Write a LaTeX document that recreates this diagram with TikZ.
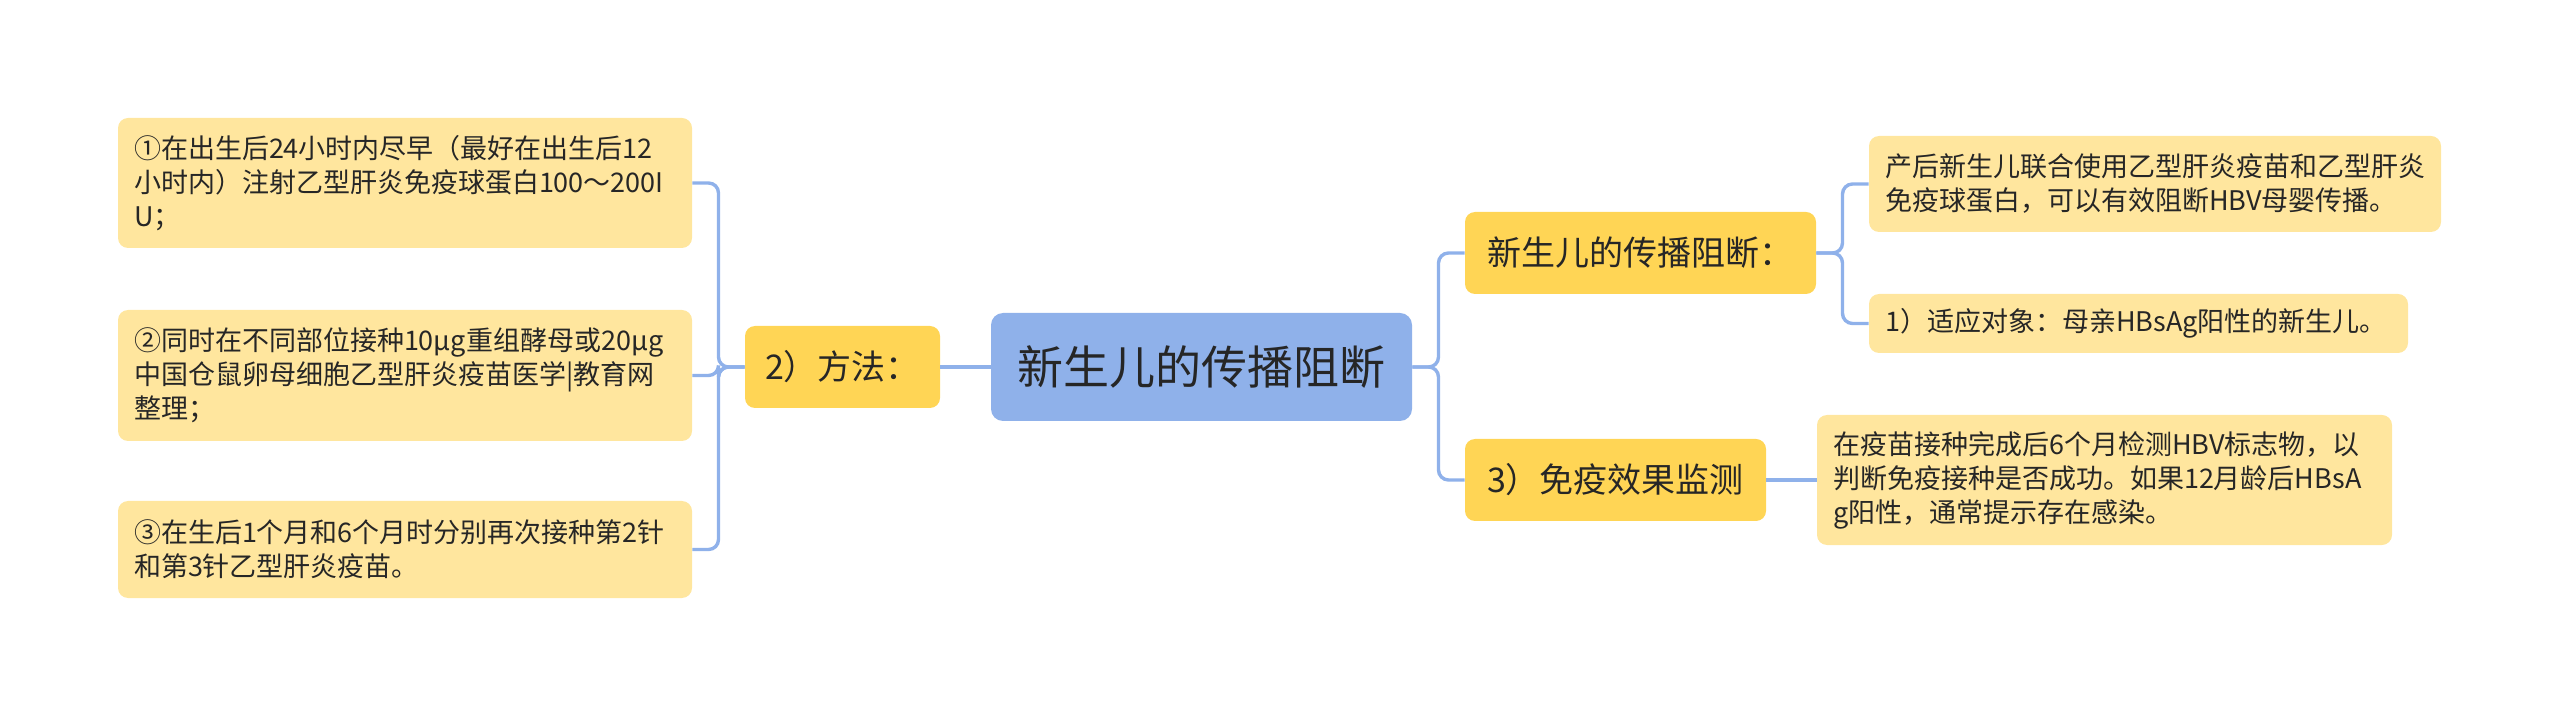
\documentclass[tikz,border=0pt]{standalone}
\usepackage{fontspec}
\setmainfont{Noto Sans CJK SC}
\usetikzlibrary{calc,positioning}
\definecolor{sky}{HTML}{8FB1EA}
\definecolor{gold}{HTML}{FFD555}
\definecolor{cream}{HTML}{FFE69E}
\definecolor{ink}{HTML}{262626}
\tikzset{
  topic/.style={fill=sky,rounded corners=6pt,text=ink,font=\fontsize{23}{28}\selectfont,minimum width=210.5pt,minimum height=54pt,inner sep=0pt},
  branch/.style={fill=gold,rounded corners=5pt,text=ink,font=\fontsize{17}{21}\selectfont,minimum height=41pt,inner sep=0pt},
  leaf/.style={fill=cream,rounded corners=5pt,text=ink,font=\fontsize{13.5}{17}\selectfont,align=left,inner xsep=8pt,inner ysep=0pt,text width=#1},
  link/.style={draw=sky,line width=1.7pt,rounded corners=5pt},
}
\begin{document}
\begin{tikzpicture}[x=0.5pt,y=-0.5pt]
    \useasboundingbox (0,0) rectangle (2560,716);
    \node[topic] (root) at (1201.5,367) {新生儿的传播阻断};
    % left side
    \node[branch,minimum width=97.5pt] (how) at (842.5,367) {2）方法：};
    \node[leaf=271pt,minimum height=65pt] (how1) at (405,183) {①在出生后24小时内尽早（最好在出生后12\\小时内）注射乙型肝炎免疫球蛋白100～200I\\U；};
    \node[leaf=271pt,minimum height=65.5pt] (how2) at (405,375.5) {②同时在不同部位接种10μg重组酵母或20μg\\中国仓鼠卵母细胞乙型肝炎疫苗医学|教育网\\整理；};
    \node[leaf=271pt,minimum height=48.5pt] (how3) at (405,549.5) {③在生后1个月和6个月时分别再次接种第2针\\和第3针乙型肝炎疫苗。};
    % right side
    \node[branch,minimum width=175.5pt] (block) at (1640.5,253) {新生儿的传播阻断：};
    \node[leaf=270pt,minimum height=48pt] (block1) at (2155,184) {产后新生儿联合使用乙型肝炎疫苗和乙型肝炎\\免疫球蛋白，可以有效阻断HBV母婴传播。};
    \node[leaf=253.5pt,minimum height=29.5pt] (block2) at (2138.5,323.5) {1）适应对象：母亲HBsAg阳性的新生儿。};
    \node[branch,minimum width=150.5pt] (check) at (1615.5,480) {3）免疫效果监测};
    \node[leaf=271.5pt,minimum height=65pt] (check1) at (2104.5,480) {在疫苗接种完成后6个月检测HBV标志物，以\\判断免疫接种是否成功。如果12月龄后HBsA\\g阳性，通常提示存在感染。};
    \draw[link] (root.west) -- (how.east);
    \foreach \n in {how1,how2,how3}
      \draw[link] (how.west) -- ($(how.west)!.5!(how.west-|\n.east)$) |- (\n.east);
    \foreach \n in {block,check}
      \draw[link] (root.east) -- ($(root.east)!.5!(root.east-|\n.west)$) |- (\n.west);
    \foreach \n in {block1,block2}
      \draw[link] (block.east) -- ($(block.east)!.5!(block.east-|\n.west)$) |- (\n.west);
    \draw[link] (check.east) -- (check1.west);
  \end{tikzpicture}
\end{document}
